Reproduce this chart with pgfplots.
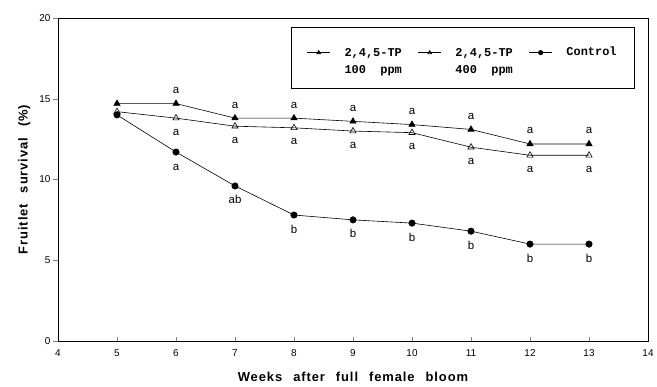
\documentclass[border=0pt]{standalone}
\usepackage{fontspec}
\setmainfont{Liberation Sans}
\newfontfamily\legfont{Liberation Mono}
\newfontfamily\labfont[LetterSpace=7]{Liberation Sans}
\usepackage{pgfplots}
\pgfplotsset{compat=1.18}
\newcommand{\wsp}{\hspace{11bp}}
\begin{document}
\begin{tikzpicture}[x=1bp,y=1bp, lab/.style={font=\fontsize{11.5}{12}\selectfont, anchor=base}]
\begin{axis}[
  name=ax,
  scale only axis, width=590bp, height=323bp,
  xmin=4, xmax=14, ymin=0, ymax=20,
  xtick={4,5,...,14}, ytick={0,5,10,15,20},
  axis line style={line width=0.7pt},
  xtick style={line width=0.5pt}, ytick style={line width=0.5pt, xshift=-4.5bp},
  tick align=inside, ytick pos=left, xtick pos=bottom,
  major tick length=4.5bp,
  tick label style={font=\fontsize{10}{12}\selectfont},
  /pgf/number format/assume math mode=true,
  xticklabel style={yshift=-5bp},
  yticklabel style={xshift=-4bp},
  xlabel={Weeks\wsp after\wsp full\wsp female\wsp bloom},
  ylabel={Fruitlet\wsp survival\wsp (\%)},
  every axis x label/.style={at={(axis description cs:0.5,0)}, anchor=base, yshift=-40bp,
    font=\labfont\bfseries\fontsize{13}{14}\selectfont},
  every axis y label/.style={at={(axis description cs:-0.057,0.5)}, rotate=90, anchor=center,
    font=\labfont\bfseries\fontsize{13}{14}\selectfont},
  clip=false,
  legend columns=3,
  legend image code/.code={\draw[mark repeat=2,mark phase=2] plot coordinates {(0bp,5bp) (11.5bp,5bp) (23bp,5bp)};},
  legend image post style={mark size=2.2bp},
  legend style={at={(0.978,0.972)}, anchor=north east, draw=black, line width=0.7pt,
    font=\legfont\bfseries\fontsize{12}{16.5}\selectfont,
    inner xsep=16bp, inner ysep=16bp, column sep=0pt,
    nodes={text depth=13bp},
    /tikz/every odd column/.append style={column sep=12bp},
    /tikz/every even column/.append style={column sep=14bp}},
  legend cell align=left,
]
\addplot[black, line width=0.6pt, mark=triangle*, mark size=3.6bp, mark options={solid}]
  coordinates {(5,14.7) (6,14.7) (7,13.8) (8,13.8) (9,13.6) (10,13.4) (11,13.1) (12,12.2) (13,12.2)};
\addlegendentry{\begin{tabular}[t]{@{}l@{}}2,4,5-TP\\100\ \ ppm\end{tabular}}
\addplot[black, line width=0.6pt, mark=triangle, mark size=3.6bp, mark options={fill=white}]
  coordinates {(5,14.2) (6,13.8) (7,13.3) (8,13.2) (9,13.0) (10,12.9) (11,12.0) (12,11.5) (13,11.5)};
\addlegendentry{\begin{tabular}[t]{@{}l@{}}2,4,5-TP\\400\ \ ppm\end{tabular}}
\addplot[black, line width=0.6pt, mark=*, mark size=3.2bp]
  coordinates {(5,14.0) (6,11.7) (7,9.6) (8,7.8) (9,7.5) (10,7.3) (11,6.8) (12,6.0) (13,6.0)};
\addlegendentry{Control}
% significance letters: 100 ppm (above)
\node[lab, yshift=10bp] at (axis cs:6,14.7) {a};
\node[lab, yshift=10bp] at (axis cs:7,13.8) {a};
\node[lab, yshift=10bp] at (axis cs:8,13.8) {a};
\node[lab, yshift=10bp] at (axis cs:9,13.6) {a};
\node[lab, yshift=10bp] at (axis cs:10,13.4) {a};
\node[lab, yshift=10bp] at (axis cs:11,13.1) {a};
\node[lab, yshift=10bp] at (axis cs:12,12.2) {a};
\node[lab, yshift=10bp] at (axis cs:13,12.2) {a};
% 400 ppm (below)
\node[lab, yshift=-17bp] at (axis cs:6,13.8) {a};
\node[lab, yshift=-17bp] at (axis cs:7,13.3) {a};
\node[lab, yshift=-17bp] at (axis cs:8,13.2) {a};
\node[lab, yshift=-17bp] at (axis cs:9,13.0) {a};
\node[lab, yshift=-17bp] at (axis cs:10,12.9) {a};
\node[lab, yshift=-17bp] at (axis cs:11,12.0) {a};
\node[lab, yshift=-17bp] at (axis cs:12,11.5) {a};
\node[lab, yshift=-17bp] at (axis cs:13,11.5) {a};
% control (below)
\node[lab, yshift=-18bp] at (axis cs:6,11.7) {a};
\node[lab, yshift=-18bp] at (axis cs:7,9.6) {ab};
\node[lab, yshift=-18bp] at (axis cs:8,7.8) {b};
\node[lab, yshift=-18bp] at (axis cs:9,7.5) {b};
\node[lab, yshift=-18bp] at (axis cs:10,7.3) {b};
\node[lab, yshift=-18bp] at (axis cs:11,6.8) {b};
\node[lab, yshift=-18bp] at (axis cs:12,6.0) {b};
\node[lab, yshift=-18bp] at (axis cs:13,6.0) {b};
\end{axis}
\pgfresetboundingbox
\path ([shift={(-58bp,-46bp)}]ax.south west) rectangle ([shift={(9bp,18bp)}]ax.north east);
\end{tikzpicture}
\end{document}
